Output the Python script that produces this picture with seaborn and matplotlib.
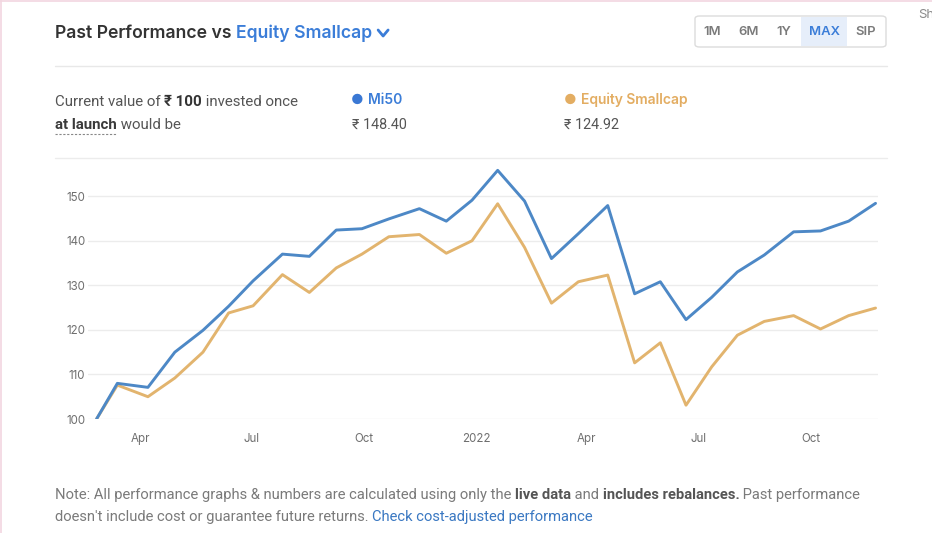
import pandas as pd
import seaborn as sns
import matplotlib.pyplot as plt
from matplotlib.lines import Line2D
from matplotlib.patches import FancyBboxPatch, Rectangle


# Chart data
dates = [
    "2021-02-24", "2021-03-13", "2021-04-07", "2021-04-29", "2021-05-22",
    "2021-06-12", "2021-07-02", "2021-07-26", "2021-08-17", "2021-09-08",
    "2021-09-29", "2021-10-21", "2021-11-15", "2021-12-07", "2021-12-28",
    "2022-01-18", "2022-02-09", "2022-03-03", "2022-03-25", "2022-04-18",
    "2022-05-10", "2022-05-31", "2022-06-21", "2022-07-12", "2022-08-02",
    "2022-08-24", "2022-09-17", "2022-10-09", "2022-11-01", "2022-11-23",
]
mi50 = [
    100.0, 108.0, 107.1, 115.0, 119.9, 125.3, 131.0, 137.0, 136.5, 142.4,
    142.7, 144.9, 147.2, 144.4, 149.1, 155.8, 148.9, 136.0, 141.6, 147.9,
    128.1, 130.8, 122.3, 127.3, 133.0, 136.8, 142.0, 142.2, 144.4, 148.4,
]
smallcap = [
    100.0, 107.6, 105.0, 109.2, 115.0, 123.8, 125.4, 132.4, 128.4, 133.9,
    137.0, 140.9, 141.4, 137.2, 140.0, 148.3, 138.5, 126.0, 130.8, 132.3,
    112.6, 117.1, 103.1, 111.7, 118.8, 121.9, 123.2, 120.2, 123.2, 124.9,
]
series_names = ["Equity Smallcap", "Mi50"]
tick_dates = ["2021-04-01", "2021-07-01", "2021-10-01", "2022-01-01",
              "2022-04-01", "2022-07-01", "2022-10-01"]
tick_labels = ["Apr", "Jul", "Oct", "2022", "Apr", "Jul", "Oct"]
y_ticks = [100, 110, 120, 130, 140, 150]
final_values = ["₹ 148.40", "₹ 124.92"]

BLUE_LINE = "#4d88c6"
ORANGE_LINE = "#e2b46e"
LINK_BLUE = "#3b7dd8"
GREY = "#6b6b6b"
DARK = "#333333"

W, H = 932, 533

sns.set_style("white")
plt.rcParams["font.family"] = ["Roboto", "DejaVu Sans"]

fig = plt.figure(figsize=(W / 100, H / 100), dpi=100)
renderer = fig.canvas.get_renderer()


def fx(x):
    return x / W


def fy(y):
    return 1 - y / H


def text_run(parts, x, y, size, family=None):
    """Draw a row of text pieces one after another, each in its own style."""
    fam = family or ["Roboto", "DejaVu Sans"]
    for s, color, weight in parts:
        t = fig.text(fx(x), fy(y), s, color=color, fontsize=size,
                     fontweight=weight, va="center", ha="left", family=fam)
        x += t.get_window_extent(renderer).width
    return x


# ---- line chart ----
df = pd.DataFrame({
    "date": pd.to_datetime(dates * 2),
    "value": smallcap + mi50,
    "fund": [series_names[0]] * len(dates) + [series_names[1]] * len(dates),
})

ax = fig.add_axes([fx(88), fy(419), fx(878) - fx(88), fy(165) - fy(419)])
sns.lineplot(data=df, x="date", y="value", hue="fund", hue_order=series_names,
             palette=[ORANGE_LINE, BLUE_LINE], linewidth=2.1, legend=False, ax=ax)

ax.set_xlim(pd.Timestamp("2021-02-17"), pd.Timestamp("2022-11-25"))
ax.set_ylim(100, 157)
ax.set_xticks(pd.to_datetime(tick_dates))
ax.set_xticklabels(tick_labels)
ax.set_yticks(y_ticks)
ax.set_xlabel("")
ax.set_ylabel("")
ax.grid(axis="y", color="#ececec", linewidth=1)
ax.set_axisbelow(True)
for sp in ax.spines.values():
    sp.set_visible(False)
ax.tick_params(axis="both", length=0, labelsize=8.3, labelcolor="#6f6f6f")
ax.tick_params(axis="x", pad=10)
ax.tick_params(axis="y", pad=2)
for lab in ax.get_xticklabels() + ax.get_yticklabels():
    lab.set_family(["Inter", "DejaVu Sans"])

# ---- header ----
title_font = ["Inter", "DejaVu Sans"]
x_end = text_run([("Past Performance vs ", DARK, "semibold"),
                  ("Equity Smallcap", LINK_BLUE, "semibold")],
                 55, 33, 12.7, family=title_font)
chev_x = x_end + 6
fig.add_artist(Line2D([fx(chev_x), fx(chev_x + 5), fx(chev_x + 10)],
                      [fy(30), fy(36), fy(30)], color=LINK_BLUE, lw=2,
                      solid_capstyle="round", solid_joinstyle="round"))

# period buttons
fig.add_artist(FancyBboxPatch((fx(695), fy(47)), fx(886) - fx(695), fy(16) - fy(47),
                              boxstyle="round,pad=0,rounding_size=0.005",
                              facecolor="white", edgecolor="#dcdcdc", lw=1))
fig.add_artist(Rectangle((fx(801), fy(46)), fx(847) - fx(801), fy(17) - fy(46),
                         facecolor="#e6eefa", edgecolor="none"))
for lab, xc in zip(["1M", "6M", "1Y", "MAX", "SIP"], [712, 749, 784, 824, 866]):
    fig.text(fx(xc), fy(32), lab, ha="center", va="center", fontsize=9.4,
             fontweight="semibold", family=title_font,
             color=LINK_BLUE if lab == "MAX" else "#7a7a7a")
fig.text(fx(918), fy(15), "Sh", ha="left", va="center", fontsize=9.5,
         color="#8a8a8a", family=title_font)

# separators
fig.add_artist(Line2D([fx(55), fx(887)], [fy(66), fy(66)], color="#e8e8e8", lw=1))
fig.add_artist(Line2D([fx(55), fx(887)], [fy(158), fy(158)], color="#ececec", lw=1))

# current value block
text_run([("Current value of ", "#555555", "normal"),
          ("₹ 100", DARK, "bold"),
          (" invested once", "#555555", "normal")], 55, 102, 10.8)
x_launch = text_run([("at launch", "#3a3a3a", "semibold")], 55, 125, 10.8)
text_run([(" would be", "#555555", "normal")], x_launch, 125, 10.8)
fig.add_artist(Line2D([fx(55), fx(x_launch)], [fy(134), fy(134)], color="#888888",
                      lw=0.8, linestyle=(0, (2, 1.5))))

text_run([("● ", "#3a78d4", "normal"), ("Mi50", LINK_BLUE, "semibold")],
         351, 100, 10, family=title_font)
text_run([(final_values[0], "#555555", "normal")], 352, 125, 10.4)
text_run([("● ", "#e3ad62", "normal"), ("Equity Smallcap", "#e3ad62", "semibold")],
         564, 100, 10, family=title_font)
text_run([(final_values[1], "#555555", "normal")], 564, 125, 10.4)

# note
text_run([("Note: All performance graphs & numbers are calculated using only the ", "#7a7a7a", "normal"),
          ("live data", "#555555", "semibold"),
          (" and ", "#7a7a7a", "normal"),
          ("includes rebalances.", "#555555", "semibold"),
          (" Past performance", "#7a7a7a", "normal")], 55, 495, 10.6)
text_run([("doesn't include cost or guarantee future returns. ", "#7a7a7a", "normal"),
          ("Check cost-adjusted performance", "#3a78c2", "normal")], 55, 517, 10.6)

# faint page border
fig.add_artist(Line2D([fx(1), fx(1)], [0, 1], color="#f2d6e0", lw=1.2))
fig.add_artist(Line2D([0, 1], [fy(1), fy(1)], color="#f2d6e0", lw=1.2))

fig.savefig("out.png", dpi=100, facecolor="white")
